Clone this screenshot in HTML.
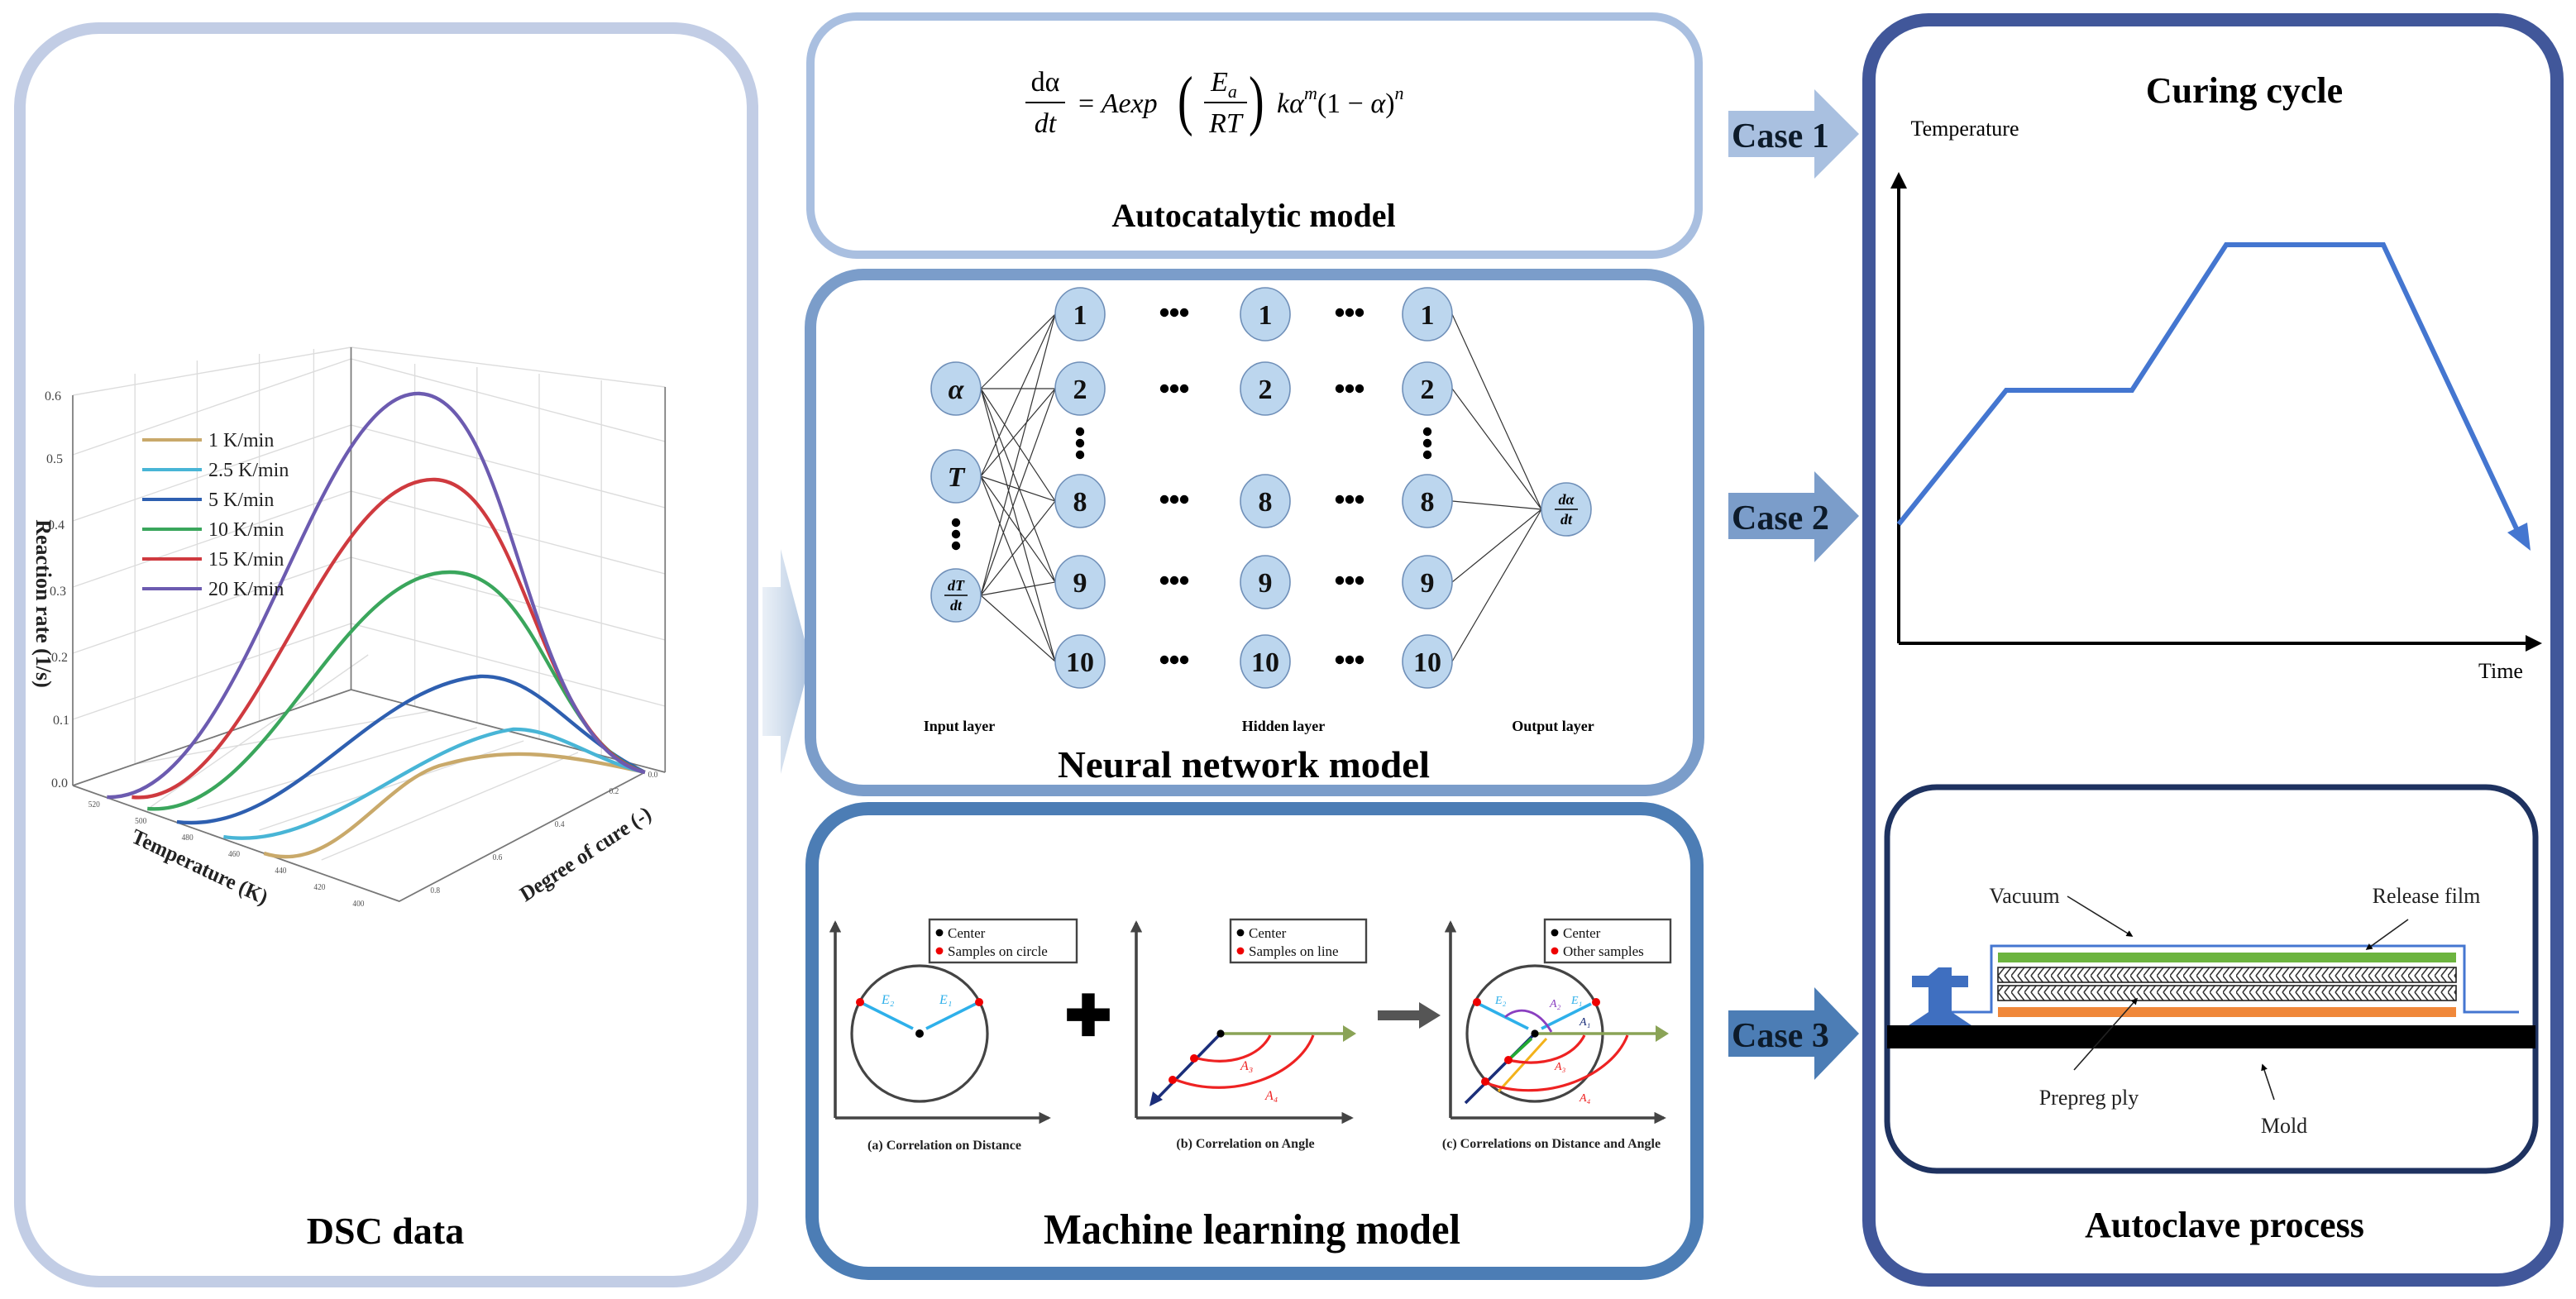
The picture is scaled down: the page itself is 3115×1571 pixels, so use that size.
<!DOCTYPE html>
<html><head><meta charset="utf-8"><style>html,body{margin:0;padding:0;background:#fff}svg{display:block}</style></head><body>
<svg width="3115" height="1571" viewBox="0 0 1557.5 785.5" xmlns="http://www.w3.org/2000/svg" font-family="Liberation Serif, serif">
<defs>
<linearGradient id="ga" x1="0" x2="1"><stop offset="0" stop-color="#d5e1ef" stop-opacity="0.5"/><stop offset="1" stop-color="#a9c0dd"/></linearGradient>
<pattern id="hat" width="8" height="10" patternUnits="userSpaceOnUse"><path d="M0 0 L4 5 L0 10 M4 0 L8 5 L4 10" stroke="#333" stroke-width="0.8" fill="none"/></pattern>
<marker id="ab" viewBox="0 0 10 10" refX="8" refY="5" markerWidth="5" markerHeight="5" orient="auto"><path d="M0 0 L10 5 L0 10 z" fill="#000"/></marker>
<marker id="ag" viewBox="0 0 10 10" refX="8" refY="5" markerWidth="4" markerHeight="4" orient="auto"><path d="M0 0 L10 5 L0 10 z" fill="#444"/></marker>
</defs>
<rect width="1557.5" height="785.5" fill="#fff"/>

<rect x="12" y="17" width="443" height="758" rx="48" fill="#fff" stroke="#c2cde5" stroke-width="7"/>
<g transform="translate(-16,0) translate(60,0) scale(0.94,1) translate(-60,0)">
<g stroke="#dcdcdc" stroke-width="0.7" fill="none">
<path d="M60 435 L239 377 M60 395 L239 337 M60 355 L239 297 M60 315 L239 257 M60 275 L239 217 M60 239 L239 210"/>
<path d="M100 462 L100 226 M140 449 L140 218 M180 436 L180 214 M215 425 L215 211"/>
<path d="M239 377 L441 427 M239 337 L441 387 M239 297 L441 347 M239 257 L441 307 M239 217 L441 267 M239 210 L441 234"/>
<path d="M280 427 L280 220 M320 437 L320 222 M360 447 L360 226 M400 457 L400 230"/>
<path d="M100 462 L290 430 M140 489 L320 440 M180 502 L350 448 M220 520 L385 455 M110 488 L250 396 M420 462 L239 417"/>
</g>
<g stroke="#777" stroke-width="0.9" fill="none">
<path d="M60 239 L60 475 M239 210 L239 417 M441 234 L441 467"/>
<path d="M60 475 L239 417 L441 467"/>
<path d="M60 475 L270 545 L428 467"/>
</g>
<g font-size="5" fill="#555">
<text x="70" y="488">520</text><text x="100" y="498">500</text><text x="130" y="508">480</text><text x="160" y="518">460</text><text x="190" y="528">440</text><text x="215" y="538">420</text><text x="240" y="548">400</text>
<text x="290" y="540">0.8</text><text x="330" y="520">0.6</text><text x="370" y="500">0.4</text><text x="405" y="480">0.2</text><text x="430" y="470">0.0</text>
</g>
<g fill="none" stroke-width="2.2">
<path d="M183 516 C230 530 260 470 300 462 C340 452 370 455 428 467" stroke="#c9a96a"/>
<path d="M157 506 C220 515 280 450 343 441 C370 440 395 460 428 467" stroke="#48b5d6"/>
<path d="M127 497 C200 505 250 415 322 409 C360 408 380 445 428 467" stroke="#2e5fb0"/>
<path d="M108 489 C185 495 230 345 303 346 C360 346 370 450 428 467" stroke="#3aa65c"/>
<path d="M98 482 C175 490 220 288 293 290 C350 292 360 450 428 467" stroke="#cf3a3f"/>
<path d="M82 482 C170 485 215 236 283 238 C345 240 350 450 428 467" stroke="#6c5bb0"/>
</g>
<text transform="translate(140,528) rotate(24)" text-anchor="middle" font-size="13" font-weight="bold" fill="#222">Temperature (K)</text>
<text transform="translate(392,520) rotate(-32)" text-anchor="middle" font-size="13" font-weight="bold" fill="#222">Degree of cure (-)</text>
</g>
<g font-size="8" fill="#444">
<text x="27" y="242">0.6</text><text x="28" y="280">0.5</text><text x="29" y="320">0.4</text><text x="30" y="360">0.3</text><text x="31" y="400">0.2</text><text x="32" y="438">0.1</text><text x="31" y="476">0.0</text>
</g>
<g font-size="12" fill="#222">
<line x1="86" y1="266" x2="122" y2="266" stroke="#c9a96a" stroke-width="2"/><text x="126" y="270">1 K/min</text>
<line x1="86" y1="284" x2="122" y2="284" stroke="#48b5d6" stroke-width="2"/><text x="126" y="288">2.5 K/min</text>
<line x1="86" y1="302" x2="122" y2="302" stroke="#2e5fb0" stroke-width="2"/><text x="126" y="306">5 K/min</text>
<line x1="86" y1="320" x2="122" y2="320" stroke="#3aa65c" stroke-width="2"/><text x="126" y="324">10 K/min</text>
<line x1="86" y1="338" x2="122" y2="338" stroke="#cf3a3f" stroke-width="2"/><text x="126" y="342">15 K/min</text>
<line x1="86" y1="356" x2="122" y2="356" stroke="#6c5bb0" stroke-width="2"/><text x="126" y="360">20 K/min</text>
</g>
<text transform="translate(22,365) rotate(90)" text-anchor="middle" font-size="13" font-weight="bold" fill="#222">Reaction rate (1/s)</text>
<text x="233" y="752" text-anchor="middle" font-size="23" font-weight="bold">DSC data</text>

<path d="M461 355 L472 355 L472 332 L490 400 L472 468 L472 445 L461 445 Z" fill="url(#ga)"/>

<rect x="490" y="10" width="537" height="144" rx="28" fill="#fff" stroke="#a9bfe0" stroke-width="5"/>
<g font-size="17" font-style="italic" fill="#000">
<text x="632" y="55" text-anchor="middle" font-style="normal">dα</text>
<line x1="620" y1="62" x2="644" y2="62" stroke="#000" stroke-width="1"/>
<text x="632" y="80" text-anchor="middle">dt</text>
<text x="652" y="68"><tspan font-style="normal">= </tspan>Aexp</text>
<text x="712" y="74" font-size="40" font-style="normal" transform="translate(712,74) scale(0.7,1) translate(-712,-74)">(</text>
<text x="740" y="55" text-anchor="middle">E<tspan font-size="11" dy="4">a</tspan></text>
<line x1="728" y1="62" x2="754" y2="62" stroke="#000" stroke-width="1"/>
<text x="741" y="80" text-anchor="middle">RT</text>
<text x="755" y="74" font-size="40" font-style="normal" transform="translate(755,74) scale(0.7,1) translate(-755,-74)">)</text>
<text x="772" y="68">kα<tspan font-size="11" dy="-8">m</tspan><tspan dy="8" font-style="normal">(1 − </tspan>α<tspan font-style="normal">)</tspan><tspan font-size="11" dy="-8">n</tspan></text>
</g>
<text x="758" y="137" text-anchor="middle" font-size="20" font-weight="bold">Autocatalytic model</text>

<rect x="490" y="166" width="537" height="312" rx="32" fill="#fff" stroke="#7b9dca" stroke-width="7"/>
<g stroke="#333" stroke-width="0.6">
<path d="M593 235 L638 190 M593 235 L638 235 M593 235 L638 303 M593 235 L638 352 M593 235 L638 400
M593 288 L638 190 M593 288 L638 235 M593 288 L638 303 M593 288 L638 352 M593 288 L638 400
M593 360 L638 190 M593 360 L638 235 M593 360 L638 303 M593 360 L638 352 M593 360 L638 400
M878 190 L932 308 M878 235 L932 308 M878 303 L932 308 M878 352 L932 308 M878 400 L932 308"/>
</g>
<g fill="#bcd6ee" stroke="#6f8fb8" stroke-width="0.8">
<ellipse cx="578" cy="235" rx="15" ry="16"/><ellipse cx="578" cy="288" rx="15" ry="16"/><ellipse cx="578" cy="360" rx="15" ry="16"/>
<ellipse cx="947" cy="308" rx="15" ry="16"/>
<g id="col"><ellipse cx="653" cy="190" rx="15" ry="16"/><ellipse cx="653" cy="235" rx="15" ry="16"/><ellipse cx="653" cy="303" rx="15" ry="16"/><ellipse cx="653" cy="352" rx="15" ry="16"/><ellipse cx="653" cy="400" rx="15" ry="16"/></g>
<use href="#col" x="112"/><use href="#col" x="210"/>
</g>
<g font-size="17" font-weight="bold" text-anchor="middle" fill="#111">
<g id="nums"><text x="653" y="196">1</text><text x="653" y="241">2</text><text x="653" y="309">8</text><text x="653" y="358">9</text><text x="653" y="406">10</text></g>
<use href="#nums" x="112"/><use href="#nums" x="210"/>
<text x="578" y="241" font-style="italic">α</text><text x="578" y="294" font-style="italic">T</text>
</g>
<g font-size="9" font-style="italic" font-weight="bold" text-anchor="middle">
<text x="578" y="357">dT</text><line x1="571" y1="360" x2="585" y2="360" stroke="#000" stroke-width="0.7"/><text x="578" y="369">dt</text>
<text x="947" y="305">dα</text><line x1="940" y1="308" x2="954" y2="308" stroke="#000" stroke-width="0.7"/><text x="947" y="317">dt</text>
</g>
<g fill="#000">
<g id="hd"><circle cx="704" cy="189" r="2.6"/><circle cx="710" cy="189" r="2.6"/><circle cx="716" cy="189" r="2.6"/></g>
<use href="#hd" y="46"/><use href="#hd" y="113"/><use href="#hd" y="162"/><use href="#hd" y="210"/>
<use href="#hd" x="106"/><use href="#hd" x="106" y="46"/><use href="#hd" x="106" y="113"/><use href="#hd" x="106" y="162"/><use href="#hd" x="106" y="210"/>
<circle cx="653" cy="261" r="2.6"/><circle cx="653" cy="268" r="2.6"/><circle cx="653" cy="275" r="2.6"/>
<circle cx="863" cy="261" r="2.6"/><circle cx="863" cy="268" r="2.6"/><circle cx="863" cy="275" r="2.6"/>
<circle cx="578" cy="316" r="2.6"/><circle cx="578" cy="323" r="2.6"/><circle cx="578" cy="330" r="2.6"/>
</g>
<g font-size="9" font-weight="bold" text-anchor="middle">
<text x="580" y="442">Input layer</text><text x="776" y="442">Hidden layer</text><text x="939" y="442">Output layer</text>
</g>
<text x="752" y="470" text-anchor="middle" font-size="23" font-weight="bold" textLength="225" lengthAdjust="spacingAndGlyphs">Neural network model</text>

<rect x="491" y="489" width="535" height="281" rx="34" fill="#fff" stroke="#4c7db5" stroke-width="8"/>
<g stroke="#444" stroke-width="1.8" fill="none">
<path d="M505 676 L505 558" marker-end="url(#ag)"/><path d="M505 676 L634 676" marker-end="url(#ag)"/>
<path d="M687 676 L687 558" marker-end="url(#ag)"/><path d="M687 676 L817 676" marker-end="url(#ag)"/>
<path d="M877 676 L877 558" marker-end="url(#ag)"/><path d="M877 676 L1006 676" marker-end="url(#ag)"/>
</g>
<g stroke="#444" stroke-width="1.2" fill="#fff">
<rect x="562" y="556" width="89" height="26"/><rect x="744" y="556" width="82" height="26"/><rect x="934" y="556" width="76" height="26"/>
</g>
<g font-size="8.5" fill="#111">
<circle cx="568" cy="564" r="2.2" fill="#000"/><text x="573" y="567">Center</text>
<circle cx="568" cy="575" r="2.2" fill="#e00"/><text x="573" y="578">Samples on circle</text>
<circle cx="750" cy="564" r="2.2" fill="#000"/><text x="755" y="567">Center</text>
<circle cx="750" cy="575" r="2.2" fill="#e00"/><text x="755" y="578">Samples on line</text>
<circle cx="940" cy="564" r="2.2" fill="#000"/><text x="945" y="567">Center</text>
<circle cx="940" cy="575" r="2.2" fill="#e00"/><text x="945" y="578">Other samples</text>
</g>
<g fill="none" stroke="#444" stroke-width="1.6"><circle cx="556" cy="625" r="41"/><circle cx="928" cy="625" r="41"/></g>
<g stroke="#2eb0ea" stroke-width="1.8"><line x1="522" y1="607" x2="552" y2="622"/><line x1="590" y1="607" x2="560" y2="622"/>
<line x1="894" y1="607" x2="924" y2="622"/><line x1="962" y1="607" x2="932" y2="622"/></g>
<circle cx="556" cy="625" r="2.5" fill="#000"/><circle cx="520" cy="606" r="2.5" fill="#e00"/><circle cx="592" cy="606" r="2.5" fill="#e00"/>
<g font-size="8" font-style="italic" fill="#2eb0ea"><text x="533" y="607">E₂</text><text x="568" y="607">E₁</text></g>
<text x="658" y="626" font-size="34" font-weight="bold" text-anchor="middle">✚</text>
<path d="M833 611 L858 611 L858 606 L871 614 L858 622 L858 617 L833 617 Z" fill="#555"/>
<line x1="738" y1="625" x2="817" y2="625" stroke="#8aa356" stroke-width="1.8"/><path d="M812 620 L820 625 L812 630 Z" fill="#8aa356"/>
<line x1="738" y1="625" x2="697" y2="667" stroke="#1b2e7a" stroke-width="1.8"/><path d="M695 669 L697 660 L703 665 Z" fill="#1b2e7a"/>
<g fill="none" stroke="#e22" stroke-width="1.6"><path d="M724 640 C745 645 762 638 768 626"/><path d="M711 653 C745 666 785 650 794 626"/></g>
<circle cx="738" cy="625" r="2.3" fill="#000"/><circle cx="722" cy="640" r="2.5" fill="#e00"/><circle cx="709" cy="653" r="2.5" fill="#e00"/>
<g font-size="8" font-style="italic" fill="#e22"><text x="750" y="647">A₃</text><text x="765" y="665">A₄</text></g>
<line x1="928" y1="625" x2="1006" y2="625" stroke="#8aa356" stroke-width="1.8"/><path d="M1001 620 L1009 625 L1001 630 Z" fill="#8aa356"/>
<line x1="928" y1="625" x2="886" y2="667" stroke="#1b2e7a" stroke-width="1.8"/>
<line x1="912" y1="641" x2="926" y2="628" stroke="#2a3" stroke-width="1.8"/>
<line x1="906" y1="660" x2="935" y2="628" stroke="#f3b21a" stroke-width="1.5"/>
<path d="M910 615 C918 608 930 610 938 624" fill="none" stroke="#8a3fc0" stroke-width="1.4"/>
<g fill="none" stroke="#e22" stroke-width="1.6"><path d="M912 641 C935 646 952 638 958 626"/><path d="M899 655 C935 668 975 650 984 626"/></g>
<circle cx="928" cy="625" r="2.3" fill="#000"/><circle cx="912" cy="641" r="2.5" fill="#e00"/><circle cx="898" cy="654" r="2.5" fill="#e00"/><circle cx="893" cy="606" r="2.5" fill="#e00"/><circle cx="965" cy="606" r="2.5" fill="#e00"/>
<g font-size="7" font-style="italic"><text x="904" y="607" fill="#2eb0ea">E₂</text><text x="937" y="609" fill="#8a3fc0">A₂</text><text x="950" y="607" fill="#2eb0ea">E₁</text><text x="955" y="620" fill="#1b2e7a">A₁</text><text x="940" y="647" fill="#e22">A₃</text><text x="955" y="666" fill="#e22">A₄</text></g>
<g font-size="8" font-weight="bold" text-anchor="middle" fill="#222">
<text x="571" y="695">(a) Correlation on Distance</text><text x="753" y="694">(b) Correlation on  Angle</text><text x="938" y="694">(c) Correlations on Distance and Angle</text>
</g>
<text x="757" y="752" text-anchor="middle" font-size="26" font-weight="bold" textLength="252" lengthAdjust="spacingAndGlyphs">Machine learning model</text>

<path d="M1045 67 L1097 67 L1097 54 L1124 81 L1097 108 L1097 95 L1045 95 Z" fill="#a9c0e0"/>
<path d="M1045 298 L1097 298 L1097 285 L1124 312 L1097 340 L1097 326 L1045 326 Z" fill="#7b9dca"/>
<path d="M1045 611 L1097 611 L1097 597 L1124 625 L1097 653 L1097 639 L1045 639 Z" fill="#4c7db5"/>
<g font-size="21" font-weight="bold" fill="#0d1b2a"><text x="1047" y="89">Case 1</text><text x="1047" y="320">Case 2</text><text x="1047" y="633">Case 3</text></g>

<rect x="1130" y="12" width="416" height="762" rx="36" fill="#fff" stroke="#41579a" stroke-width="8"/>
<text x="1357" y="62" text-anchor="middle" font-size="22" font-weight="bold">Curing cycle</text>
<text x="1188" y="82" text-anchor="middle" font-size="13">Temperature</text>
<line x1="1148" y1="389" x2="1148" y2="106" stroke="#000" stroke-width="2" marker-end="url(#ab)"/>
<line x1="1148" y1="389" x2="1535" y2="389" stroke="#000" stroke-width="2" marker-end="url(#ab)"/>
<text x="1512" y="410" text-anchor="middle" font-size="13">Time</text>
<polyline points="1148,317 1213,236 1289,236 1346,148 1441,148 1524,325" fill="none" stroke="#4476d0" stroke-width="3"/>
<path d="M1530 333 L1516 322 L1528 316 Z" fill="#4476d0"/>

<rect x="1141" y="476" width="392" height="232" rx="30" fill="#fff" stroke="#1e3260" stroke-width="3.5"/>
<rect x="1141" y="620" width="392" height="14" fill="#000"/>
<polyline points="1180,612 1204,612 1204,572 1490,572 1490,612 1523,612" fill="none" stroke="#4476d0" stroke-width="1.5"/>
<rect x="1208" y="576" width="277" height="6" fill="#6cb43f"/>
<rect x="1208" y="585" width="277" height="9" fill="url(#hat)" stroke="#222" stroke-width="0.8"/>
<rect x="1208" y="596" width="277" height="9" fill="url(#hat)" stroke="#222" stroke-width="0.8"/>
<rect x="1208" y="609" width="277" height="6" fill="#f0883a"/>
<path d="M1172 585 h8 v5 h10 v7 h-10 v15 l12 8 h-38 l12 -8 v-15 h-10 v-7 h10 z" fill="#3f6fc0"/>
<g font-size="13" fill="#222"><text x="1224" y="546" text-anchor="middle">Vacuum</text><text x="1467" y="546" text-anchor="middle">Release film</text><text x="1263" y="668" text-anchor="middle">Prepreg ply</text><text x="1381" y="685" text-anchor="middle">Mold</text></g>
<g stroke="#222" stroke-width="0.8"><line x1="1250" y1="542" x2="1289" y2="566" marker-end="url(#ab)"/><line x1="1456" y1="556" x2="1431" y2="574" marker-end="url(#ab)"/><line x1="1254" y1="647" x2="1292" y2="604" marker-end="url(#ab)"/><line x1="1375" y1="665" x2="1368" y2="644" marker-end="url(#ab)"/></g>
<text x="1345" y="748" text-anchor="middle" font-size="22" font-weight="bold">Autoclave process</text>
</svg>
</body></html>
